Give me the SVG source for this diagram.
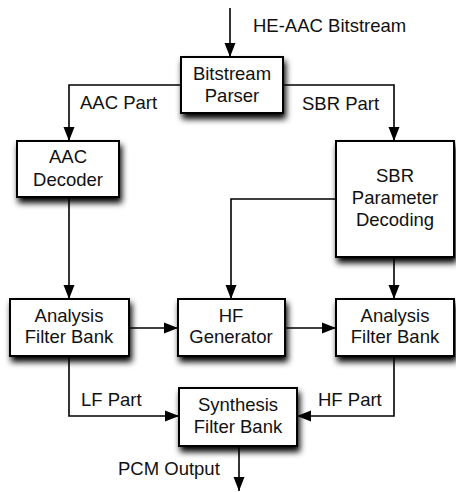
<svg xmlns="http://www.w3.org/2000/svg" width="456" height="492" viewBox="0 0 456 492">
  <style>
    .box { fill: #ffffff; stroke: #000000; stroke-width: 2; filter: url(#shadow); }
    .lbl { font-family: "Liberation Sans", Arial, sans-serif; font-size: 18.5px; fill: #111111; }
    .c { text-anchor: middle; }
    .wire { fill: none; stroke: #000000; stroke-width: 1.6; }
  </style>
  <defs>
    <filter id="shadow" x="-20%" y="-20%" width="150%" height="160%">
      <feGaussianBlur in="SourceAlpha" stdDeviation="3.2"/>
      <feOffset dx="2" dy="5" result="b"/>
      <feComponentTransfer><feFuncA type="linear" slope="1"/></feComponentTransfer>
      <feMerge><feMergeNode/><feMergeNode in="SourceGraphic"/></feMerge>
    </filter>
    <marker id="arrow" markerWidth="14" markerHeight="12" viewBox="0 0 14 12" refX="14" refY="6" orient="auto" markerUnits="userSpaceOnUse">
      <path d="M0,0.5 L14,6 L0,11.5 Z" fill="#000000"/>
    </marker>
  </defs>

  <g id="connectors">
    <path class="wire" d="M230,8 V57" marker-end="url(#arrow)"/>
    <path class="wire" d="M181,85 H69 V141" marker-end="url(#arrow)"/>
    <path class="wire" d="M283,85 H394 V141" marker-end="url(#arrow)"/>
    <path class="wire" d="M69,197 V299" marker-end="url(#arrow)"/>
    <path class="wire" d="M336,199 H231 V299" marker-end="url(#arrow)"/>
    <path class="wire" d="M394,257 V299" marker-end="url(#arrow)"/>
    <path class="wire" d="M129,328 H178" marker-end="url(#arrow)"/>
    <path class="wire" d="M285,328 H336" marker-end="url(#arrow)"/>
    <path class="wire" d="M69,356 V416 H179" marker-end="url(#arrow)"/>
    <path class="wire" d="M394,356 V416 H297" marker-end="url(#arrow)"/>
    <path class="wire" d="M239,446 V491" marker-end="url(#arrow)"/>
    <text class="lbl" x="253" y="32">HE-AAC Bitstream</text>
    <text class="lbl" x="80" y="109">AAC Part</text>
    <text class="lbl" x="302" y="110">SBR Part</text>
    <text class="lbl" x="81" y="406">LF Part</text>
    <text class="lbl" x="318" y="406">HF Part</text>
    <text class="lbl" x="118" y="475">PCM Output</text>
  </g>

  <g id="bitstream-parser">
    <rect class="box" x="181" y="57" width="102" height="56"/>
    <text class="lbl c" x="232" y="80">Bitstream</text>
    <text class="lbl c" x="232" y="102">Parser</text>
  </g>

  <g id="aac-decoder">
    <rect class="box" x="17" y="141" width="102" height="56"/>
    <text class="lbl c" x="68" y="163">AAC</text>
    <text class="lbl c" x="68" y="186">Decoder</text>
  </g>

  <g id="sbr-parameter-decoding">
    <rect class="box" x="336" y="141" width="118" height="116"/>
    <text class="lbl c" x="395" y="182">SBR</text>
    <text class="lbl c" x="395" y="204">Parameter</text>
    <text class="lbl c" x="395" y="226">Decoding</text>
  </g>

  <g id="analysis-filter-bank-left">
    <rect class="box" x="10" y="299" width="119" height="57"/>
    <text class="lbl c" x="69" y="322">Analysis</text>
    <text class="lbl c" x="69" y="343">Filter Bank</text>
  </g>

  <g id="hf-generator">
    <rect class="box" x="178" y="299" width="107" height="57"/>
    <text class="lbl c" x="231" y="322">HF</text>
    <text class="lbl c" x="231" y="343">Generator</text>
  </g>

  <g id="analysis-filter-bank-right">
    <rect class="box" x="336" y="299" width="118" height="57"/>
    <text class="lbl c" x="395" y="322">Analysis</text>
    <text class="lbl c" x="395" y="343">Filter Bank</text>
  </g>

  <g id="synthesis-filter-bank">
    <rect class="box" x="179" y="388" width="118" height="58"/>
    <text class="lbl c" x="238" y="411">Synthesis</text>
    <text class="lbl c" x="238" y="433">Filter Bank</text>
  </g>
</svg>
